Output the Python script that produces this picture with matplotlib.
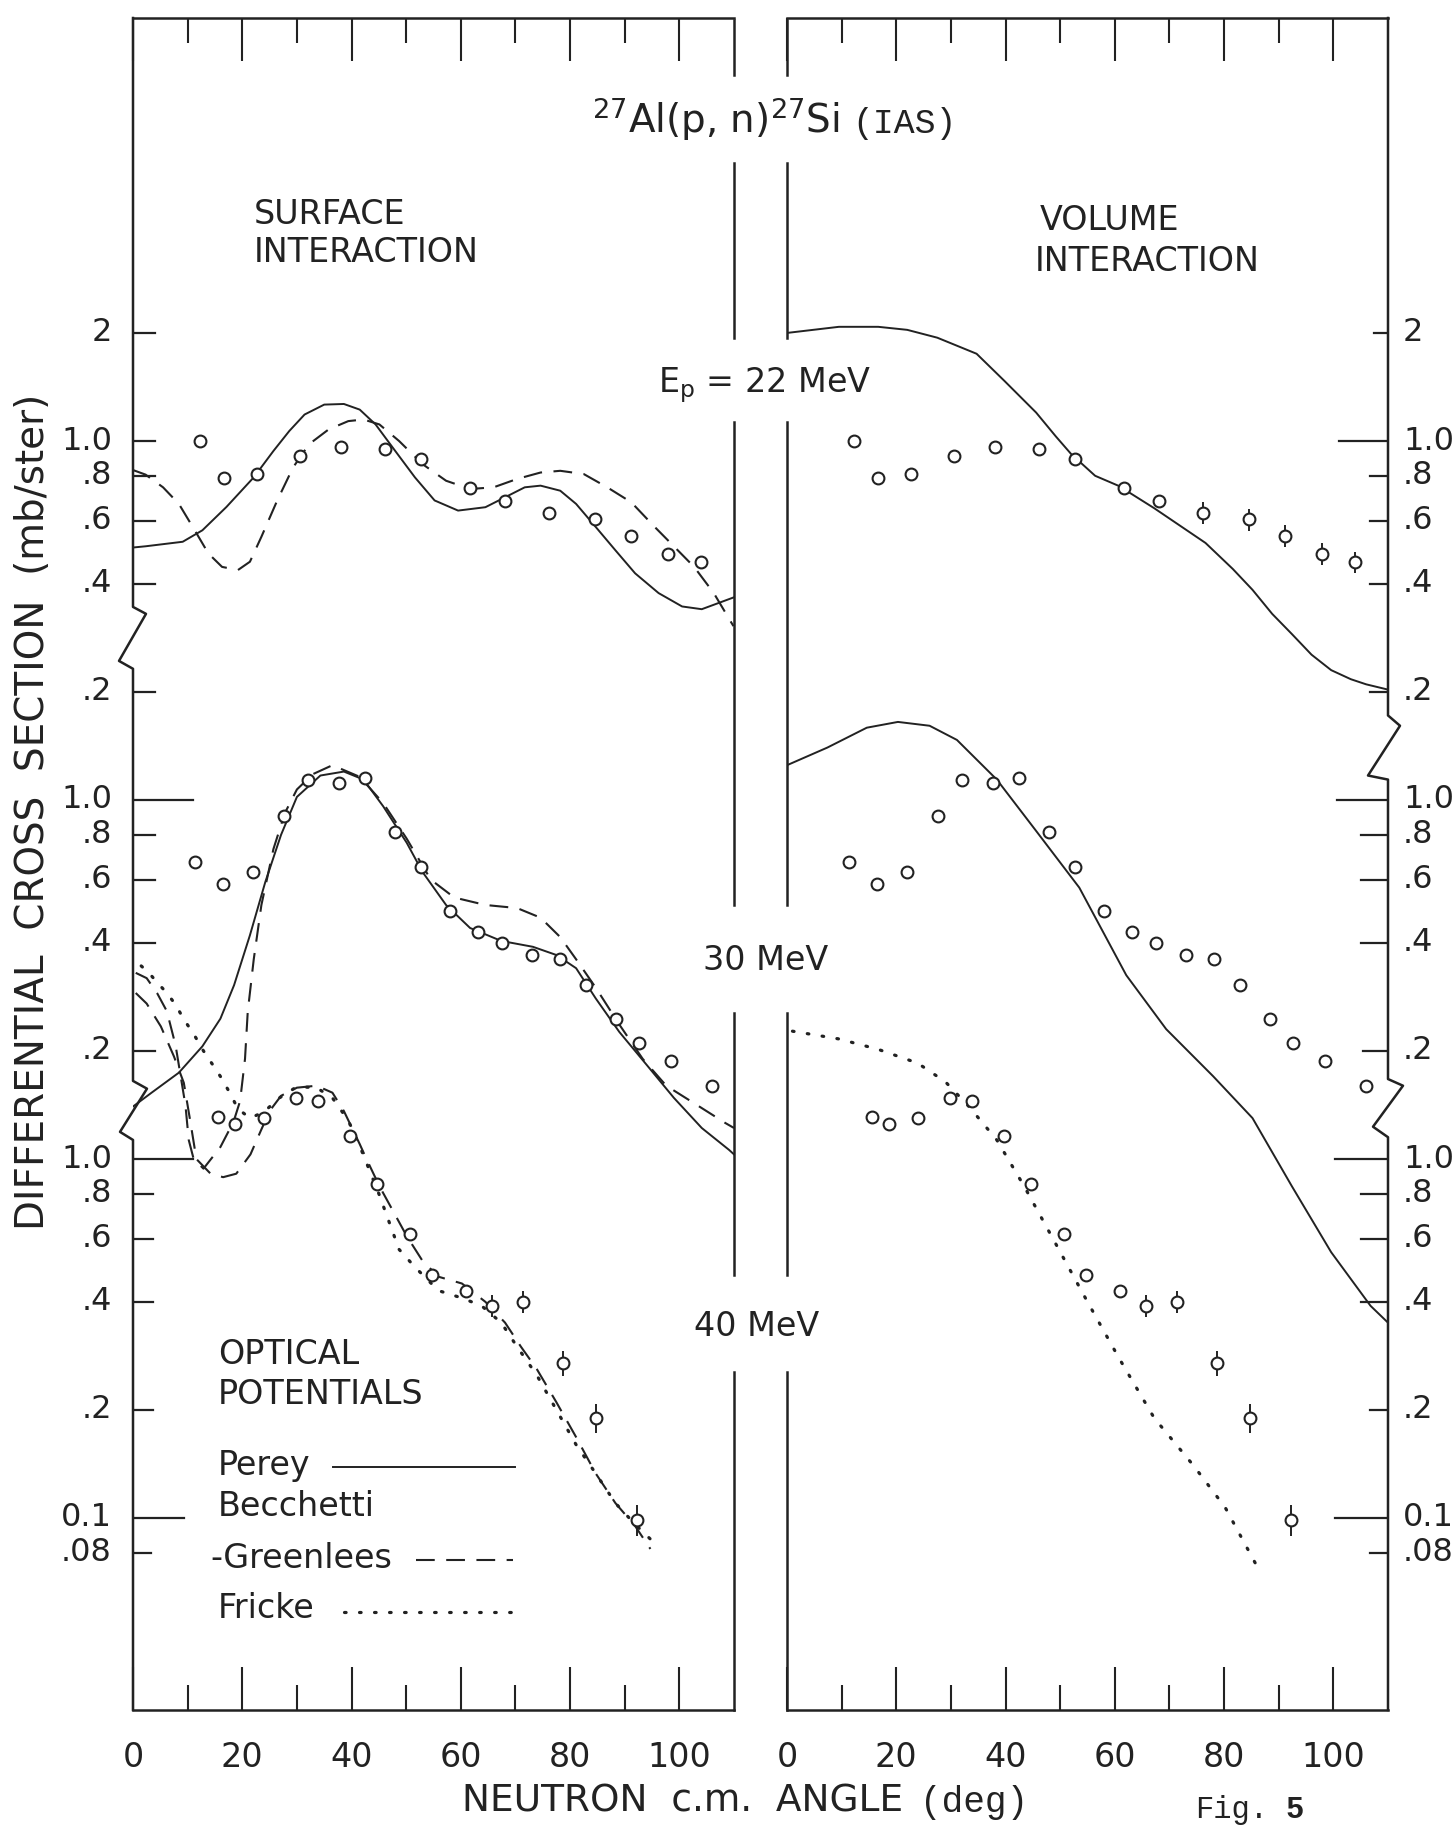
import numpy as np
import matplotlib.pyplot as plt
from matplotlib.lines import Line2D
from matplotlib.ticker import NullLocator

plt.rcParams['font.family'] = ['DejaVu Sans']

# measured points, angle (deg) and cross section (mb/ster); same data in both panels
ang22 = [12.3, 16.7, 22.7, 30.6, 38.0, 46.1, 52.8, 61.6, 68.0, 76.2, 84.5, 91.2, 97.9, 104.0]
xs22 = [1.00, 0.79, 0.81, 0.91, 0.965, 0.95, 0.89, 0.74, 0.68, 0.63, 0.605, 0.545, 0.485, 0.46]
err22 = [0, 0, 0, 0, 0, 0, 0, 0, 0, 0.07, 0.07, 0.07, 0.07, 0.07]

ang30 = [11.3, 16.5, 21.9, 27.6, 32.0, 37.7, 42.5, 48.0, 52.7, 58.1, 63.1, 67.6, 73.0, 78.2, 83.0,
         88.4, 92.6, 98.4, 106.0]
xs30 = [0.67, 0.585, 0.63, 0.90, 1.135, 1.115, 1.15, 0.815, 0.65, 0.49, 0.43, 0.40, 0.37, 0.36, 0.305,
        0.245, 0.21, 0.188, 0.16]

ang40 = [15.5, 18.6, 23.9, 29.8, 33.8, 39.8, 44.6, 50.7, 54.7, 60.9, 65.7, 71.3, 78.7, 84.8, 92.3]
xs40 = [1.31, 1.25, 1.30, 1.48, 1.45, 1.16, 0.85, 0.62, 0.475, 0.43, 0.39, 0.40, 0.27, 0.19, 0.099]
err40 = [0, 0, 0, 0, 0, 0, 0, 0, 0, 0, 0.07, 0.07, 0.08, 0.09, 0.10]

# surface interaction curves (left panel)
surf22_perey_ang = [0, 2.3, 9.1, 12.7, 17.1, 22.1, 25.7, 28.6, 31.4, 35.0, 38.6, 41.5, 44.4, 48.0, 51.6,
                    55.2, 59.5, 64.5, 68.1, 71.7, 74.6, 78.2, 81.1, 84.7, 88.3, 91.9, 96.2, 100.5, 104.1,
                    107.0, 110]
surf22_perey = [0.505, 0.509, 0.524, 0.564, 0.655, 0.792, 0.938, 1.066, 1.185, 1.263, 1.268, 1.223, 1.112,
                0.938, 0.792, 0.683, 0.640, 0.654, 0.697, 0.743, 0.751, 0.727, 0.668, 0.576, 0.496, 0.428,
                0.377, 0.346, 0.340, 0.353, 0.367]
surf22_bg_ang = [0, 2.3, 5.5, 8.4, 11.3, 13.8, 16.3, 19.2, 21.4, 23.5, 26.4, 29.3, 32.2, 35.8, 39.4, 42.2,
                 45.1, 48.7, 53.0, 57.3, 61.7, 66.0, 70.3, 74.6, 78.2, 82.5, 86.8, 91.2, 95.5, 99.1, 102.7,
                 106.3, 109.9]
surf22_bg = [0.83, 0.806, 0.743, 0.668, 0.564, 0.486, 0.446, 0.437, 0.461, 0.541, 0.683, 0.844, 0.979,
             1.077, 1.136, 1.148, 1.112, 1.0, 0.862, 0.775, 0.735, 0.743, 0.784, 0.817, 0.826, 0.809,
             0.743, 0.675, 0.576, 0.507, 0.446, 0.377, 0.305]

surf30_perey_ang = [0, 3.4, 8.4, 12.7, 16.0, 18.5, 21.4, 24.2, 27.1, 30.0, 34.3, 38.6, 42.2, 45.8, 50.1,
                    53.0, 57.3, 61.7, 67.4, 73.2, 77.5, 81.1, 84.7, 89.0, 94.0, 99.0, 104.1, 109.1, 110]
surf30_perey = [0.14, 0.153, 0.174, 0.206, 0.246, 0.305, 0.42, 0.59, 0.80, 1.02, 1.17, 1.20, 1.14, 0.96,
                0.76, 0.63, 0.51, 0.44, 0.405, 0.39, 0.37, 0.34, 0.28, 0.226, 0.183, 0.148, 0.122, 0.106,
                0.103]
surf30_bg_ang = [0.5, 2.5, 4.4, 6.2, 7.8, 8.7, 9.6, 10.2, 11.1, 12.9, 16.0, 18.4, 19.6, 20.5, 21.0, 22.1,
                 23.5, 25.7, 27.8, 30.0, 32.9, 36.5, 41.5, 45.8, 50.1, 54.5, 58.8, 64.5, 70.3, 74.6, 78.2,
                 81.1, 84.7, 89.0, 93.3, 97.6, 102.7, 108.4, 110]
surf30_bg = [0.33, 0.319, 0.29, 0.258, 0.207, 0.171, 0.141, 0.113, 0.100, 0.094, 0.108, 0.127, 0.145,
             0.19, 0.257, 0.36, 0.51, 0.73, 0.92, 1.07, 1.18, 1.25, 1.16, 0.98, 0.78, 0.60, 0.535, 0.51,
             0.50, 0.47, 0.415, 0.36, 0.30, 0.237, 0.19, 0.16, 0.143, 0.126, 0.122]

surf40_bg_ang = [0.5, 2.5, 5.1, 7.5, 9.3, 10.5, 11.6, 14.2, 16.5, 18.9, 21.5, 23.3, 25.0, 27.1, 30.0, 33.6,
                 36.5, 38.6, 41.5, 42.6, 45.1, 47.3, 50.1, 53.0, 55.9, 60.2, 64.5, 68.1, 71.0, 73.9, 77.5,
                 81.1, 84.7, 88.3, 91.9, 94.7]
surf40_bg = [2.9, 2.71, 2.34, 1.93, 1.63, 1.27, 1.00, 0.91, 0.89, 0.91, 1.03, 1.19, 1.36, 1.50, 1.58, 1.60,
             1.53, 1.36, 1.10, 1.01, 0.84, 0.73, 0.61, 0.52, 0.47, 0.45, 0.40, 0.35, 0.30, 0.26, 0.21,
             0.168, 0.133, 0.11, 0.095, 0.082]
surf40_fricke_ang = [1.5, 2.9, 4.7, 6.2, 7.8, 9.3, 11.1, 12.9, 14.7, 16.2, 17.8, 19.2, 21.4, 23.9, 26.8,
                     30.0, 33.6, 36.5, 39.4, 41.9, 45.0, 48.7, 51.6, 55.9, 60.2, 63.8, 67.4, 70.3, 73.9,
                     77.5, 81.1, 84.7, 88.3, 91.9, 95.5]
surf40_fricke = [3.45, 3.3, 3.07, 2.9, 2.69, 2.45, 2.23, 2.0, 1.82, 1.68, 1.52, 1.38, 1.30, 1.35, 1.48,
                 1.59, 1.58, 1.48, 1.28, 1.05, 0.80, 0.56, 0.50, 0.43, 0.41, 0.39, 0.35, 0.30, 0.25, 0.20,
                 0.16, 0.133, 0.11, 0.096, 0.085]

# volume interaction curves (right panel)
vol22_perey_ang = [0, 9.5, 16.7, 22.0, 27.5, 34.7, 39.8, 45.6, 49.2, 52.0, 56.4, 60.7, 67.2, 76.6, 81.6,
                   85.2, 88.8, 92.4, 96.0, 99.6, 103.2, 106.0, 110]
vol22_perey = [2.0, 2.08, 2.08, 2.04, 1.94, 1.75, 1.47, 1.20, 1.03, 0.92, 0.80, 0.75, 0.65, 0.52, 0.44,
               0.385, 0.33, 0.29, 0.254, 0.23, 0.217, 0.21, 0.203]
vol30_perey_ang = [0, 7.4, 14.6, 20.3, 26.1, 31.1, 38.4, 45.6, 53.5, 62.1, 69.4, 78.0, 85.2, 92.4, 99.6,
                   106.8, 110]
vol30_perey = [1.25, 1.40, 1.59, 1.65, 1.61, 1.47, 1.14, 0.82, 0.57, 0.325, 0.23, 0.17, 0.13, 0.084, 0.055,
               0.039, 0.035]
vol40_fricke_ang = [1.0, 9.5, 16.7, 23.9, 29.0, 33.3, 38.4, 43.4, 49.2, 55.0, 60.7, 67.2, 74.4, 80.2, 86.1]
vol40_fricke = [2.27, 2.16, 2.02, 1.85, 1.64, 1.40, 1.13, 0.84, 0.58, 0.40, 0.28, 0.19, 0.14, 0.107, 0.073]

# each energy block sits one decade lower on the same log axis
SHIFT22, SHIFT30, SHIFT40 = 1.0, 0.1, 0.01

ytick_vals = [2, 1, .8, .6, .4, .2, .1, .08, .06, .04, .02, .01, .008, .006, .004, .002, .001, .0008]
ytick_labels = ['2', '1.0', '.8', '.6', '.4', '.2', '1.0', '.8', '.6', '.4', '.2',
                '1.0', '.8', '.6', '.4', '.2', '0.1', '.08']
tick_len_left = [22, 22, 22, 22, 22, 22, 60, 22, 22, 22, 22, 60, 20, 20, 20, 20, 51, 18]
tick_len_right = [14, 49, 18, 18, 18, 18, 51, 27, 27, 27, 25, 53, 27, 27, 27, 18, 53, 18]

# page geometry (pixels)
W, H = 1454, 1827
TOP, BOT = 18, 1710
ONE, DEC = 441, 359
INK = '#222222'


def fx(x):
    return x / W


def fy(y):
    return 1 - y / H


fig = plt.figure(figsize=(W / 100, H / 100), dpi=100)
ymax = 10 ** ((ONE - TOP) / DEC)
ymin = 10 ** (-(BOT - ONE) / DEC)

axL = fig.add_axes([fx(133), fy(BOT), (734 - 133) / W, (BOT - TOP) / H])
axR = fig.add_axes([fx(787), fy(BOT), (1388 - 787) / W, (BOT - TOP) / H])
WPX = 601

for ax in (axL, axR):
    ax.set_yscale('log')
    ax.set_xlim(0, 110)
    ax.set_ylim(ymin, ymax)
    ax.yaxis.set_major_locator(NullLocator())
    ax.yaxis.set_minor_locator(NullLocator())
    for s in ('left', 'right'):
        ax.spines[s].set_visible(False)
    for s in ('top', 'bottom'):
        ax.spines[s].set_linewidth(1.8)
        ax.spines[s].set_color(INK)
    ax.set_xticks(range(0, 101, 20))
    ax.set_xticks(range(10, 100, 20), minor=True)
    ax.set_xticklabels([str(v) for v in range(0, 101, 20)])
    ax.tick_params(axis='x', which='major', direction='in', top=True, length=31, width=1.5,
                   color=INK, labelsize=24, labelcolor=INK, pad=22)
    ax.tick_params(axis='x', which='minor', direction='in', top=True, length=18, width=1.5, color=INK)


def side_line(ax, x0, pts):
    tr = ax.get_yaxis_transform()
    xs = [x0 + dx / WPX for dx, v in pts]
    ys = [v for dx, v in pts]
    ax.plot(xs, ys, transform=tr, color=INK, lw=1.8, clip_on=False)


# left axis of left panel and right axis of right panel, with break marks
side_line(axL, 0, [(0, ymax), (0, 0.345), (13, 0.33), (-14, 0.244), (0, 0.232),
                   (0, 0.0165), (14, 0.0157), (-13, 0.0119), (0, 0.0113), (0, ymin)])
side_line(axR, 1, [(0, ymax), (0, 0.172), (12, 0.161), (-20, 0.117), (0, 0.114),
                   (0, 0.0167), (15, 0.016), (-15, 0.0123), (0, 0.0115), (0, ymin)])

# inner edges, interrupted by the energy labels
gap_segments = [(20, 75), (163, 338), (422, 905), (1013, 1275), (1372, BOT)]
for ax, xe in ((axL, 1), (axR, 0)):
    for y0, y1 in gap_segments:
        ax.plot([xe, xe], [(BOT - y0) / (BOT - TOP), (BOT - y1) / (BOT - TOP)],
                transform=ax.transAxes, color=INK, lw=1.8, clip_on=False)

# custom y ticks
trL = axL.get_yaxis_transform()
trR = axR.get_yaxis_transform()
for v, lab, lnL, lnR in zip(ytick_vals, ytick_labels, tick_len_left, tick_len_right):
    axL.plot([0, lnL / WPX], [v, v], transform=trL, color=INK, lw=1.6)
    axL.text(-21 / WPX, v, lab, transform=trL, ha='right', va='center', fontsize=23, color=INK)
    axR.plot([1 - lnR / WPX, 1], [v, v], transform=trR, color=INK, lw=1.6)
    axR.text(1 + 15 / WPX, v, lab, transform=trR, ha='left', va='center', fontsize=23, color=INK)

SOLID = dict(ls='-', lw=1.4)
DASH = dict(lw=1.5, dashes=(9, 5.5))
DOT = dict(lw=2.3, dashes=(0.5, 4.2), dash_capstyle='round')


def curve(ax, ang, vals, shift, style):
    ax.plot(ang, np.array(vals) * shift, color=INK, **style)


def points(ax, ang, vals, shift, err=None):
    a = np.array(ang)
    y = np.array(vals) * shift
    if err is not None:
        e = np.array(err)
        m = e > 0
        ax.errorbar(a[m], y[m], yerr=y[m] * e[m], fmt='none', ecolor=INK, elinewidth=1.4, capsize=0)
    ax.plot(a, y, 'o', ms=8.5, mfc='white', mec=INK, mew=1.5, zorder=5)


# left panel: surface interaction
curve(axL, surf22_perey_ang, surf22_perey, SHIFT22, SOLID)
curve(axL, surf22_bg_ang, surf22_bg, SHIFT22, DASH)
curve(axL, surf30_perey_ang, surf30_perey, SHIFT30, SOLID)
curve(axL, surf30_bg_ang, surf30_bg, SHIFT30, DASH)
curve(axL, surf40_bg_ang, surf40_bg, SHIFT40, DASH)
curve(axL, surf40_fricke_ang, surf40_fricke, SHIFT40, DOT)
points(axL, ang22, xs22, SHIFT22)
points(axL, ang30, xs30, SHIFT30)
points(axL, ang40, xs40, SHIFT40, err40)

# right panel: volume interaction
curve(axR, vol22_perey_ang, vol22_perey, SHIFT22, SOLID)
curve(axR, vol30_perey_ang, vol30_perey, SHIFT30, SOLID)
curve(axR, vol40_fricke_ang, vol40_fricke, SHIFT40, DOT)
points(axR, ang22, xs22, SHIFT22, err22)
points(axR, ang30, xs30, SHIFT30)
points(axR, ang40, xs40, SHIFT40, err40)

TXT = dict(color=INK, fontsize=24)
fig.text(fx(840), fy(133), r'$^{27}$Al(p, n)$^{27}$Si', ha='right', va='baseline', color=INK, fontsize=28)
fig.text(fx(852), fy(133), '(IAS)', ha='left', va='baseline', family='Liberation Mono', color=INK,
         fontsize=25)
fig.text(fx(254), fy(224), 'SURFACE', ha='left', va='baseline', **TXT)
fig.text(fx(254), fy(262), 'INTERACTION', ha='left', va='baseline', **TXT)
fig.text(fx(1040), fy(230), 'VOLUME', ha='left', va='baseline', **TXT)
fig.text(fx(1035), fy(271), 'INTERACTION', ha='left', va='baseline', **TXT)
fig.text(fx(765), fy(385), r'E$_\mathrm{p}$ = 22 MeV', ha='center', va='center', **TXT)
fig.text(fx(766), fy(961), '30 MeV', ha='center', va='center', **TXT)
fig.text(fx(757), fy(1326), '40 MeV', ha='center', va='center', **TXT)

# legend block
fig.text(fx(218), fy(1354), 'OPTICAL', ha='left', va='center', **TXT)
fig.text(fx(218), fy(1395), 'POTENTIALS', ha='left', va='center', **TXT)
fig.text(fx(218), fy(1466), 'Perey', ha='left', va='center', **TXT)
fig.text(fx(218), fy(1507), 'Becchetti', ha='left', va='center', **TXT)
fig.text(fx(210), fy(1558), '-Greenlees', ha='left', va='center', **TXT)
fig.text(fx(218), fy(1609), 'Fricke', ha='left', va='center', **TXT)
fig.add_artist(Line2D([fx(333), fx(515)], [fy(1467), fy(1467)], color=INK, **SOLID))
fig.add_artist(Line2D([fx(416), fx(513)], [fy(1560), fy(1560)], color=INK, **DASH))
fig.add_artist(Line2D([fx(344), fx(513)], [fy(1612), fy(1612)], color=INK, **DOT))

fig.text(fx(33), fy(812), 'DIFFERENTIAL  CROSS  SECTION  (mb/ster)', rotation=90, ha='center',
         va='center', color=INK, fontsize=28)
fig.text(fx(903), fy(1812), 'NEUTRON  c.m.  ANGLE', ha='right', va='baseline', color=INK, fontsize=27)
fig.text(fx(920), fy(1812), '(deg)', ha='left', va='baseline', family='Liberation Mono', color=INK,
         fontsize=26)
fig.text(fx(1195), fy(1818), 'Fig.', ha='left', va='baseline', family='Liberation Mono', color=INK,
         fontsize=22)
fig.text(fx(1285), fy(1818), '5', ha='left', va='baseline', family='Liberation Mono', weight='bold',
         color=INK, fontsize=22)

fig.savefig('out.png', dpi=100, facecolor='white')
